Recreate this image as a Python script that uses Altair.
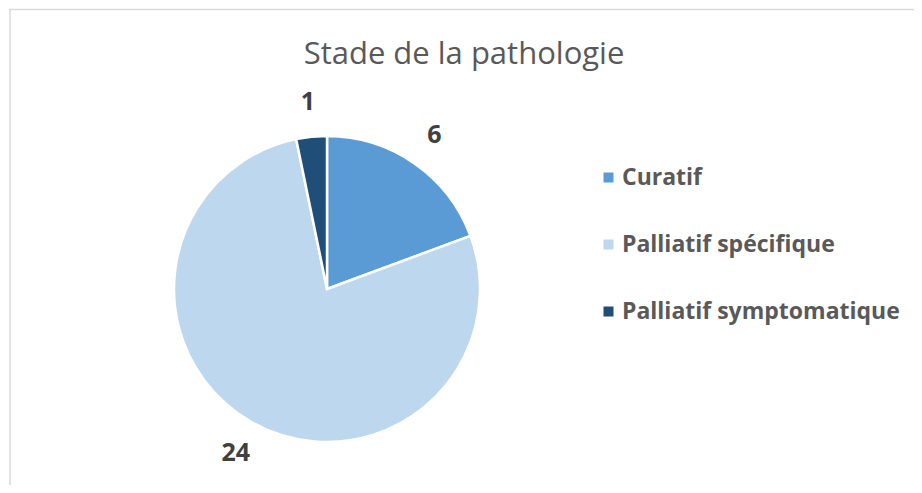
import altair as alt
import pandas as pd

categories = ["Curatif", "Palliatif spécifique", "Palliatif symptomatique"]
counts = [6, 24, 1]
colors = ["#5B9BD5", "#BDD7EE", "#1F4E79"]
title_text = "Stade de la pathologie"

df = pd.DataFrame({"cat": categories, "n": counts, "ord": list(range(len(categories)))})
one = pd.DataFrame({"t": [title_text]})

W, H = 906, 477
cx, cy, R = 318, 280, 153

base = alt.Chart(df).encode(
    theta=alt.Theta("n:Q", stack=True),
    order=alt.Order("ord:Q"),
)

color = alt.Color(
    "cat:N",
    scale=alt.Scale(domain=categories, range=colors),
    sort=categories,
    legend=alt.Legend(
        title=None, orient="none", legendX=588, legendY=157,
        symbolType="square", symbolSize=100, symbolStrokeWidth=0,
        labelFontSize=23, labelFont="Open Sans", labelFontWeight="bold",
        labelColor="#595959", rowPadding=43, labelOffset=2, labelLimit=400,
        padding=0,
    ),
)

pie = base.mark_arc(outerRadius=R, stroke="white", strokeWidth=2.5).encode(
    color=color, x=alt.value(cx), y=alt.value(cy)
)

labels = base.mark_text(
    radius=188, fontSize=25, fontWeight="bold", font="Open Sans", color="#404040"
).encode(text="n:Q", x=alt.value(cx), y=alt.value(cy))

title = alt.Chart(one).mark_text(
    fontSize=31, font="Open Sans", color="#595959", baseline="alphabetic"
).encode(text="t:N", x=alt.value(455), y=alt.value(55))

left = alt.Chart(one).mark_rule(color="#D9D9D9", strokeWidth=1.5).encode(
    x=alt.value(1), y=alt.value(0), y2=alt.value(H)
)
top = alt.Chart(one).mark_rule(color="#D9D9D9", strokeWidth=1.5).encode(
    x=alt.value(0), x2=alt.value(W), y=alt.value(0.5)
)

chart = alt.layer(left, top, pie, labels, title).properties(
    width=W, height=H, padding=0,
    autosize=alt.AutoSizeParams(type="fit", contains="padding"),
).configure_view(stroke=None)

chart.save("out.html", embed_options={"renderer": "svg", "actions": False})
